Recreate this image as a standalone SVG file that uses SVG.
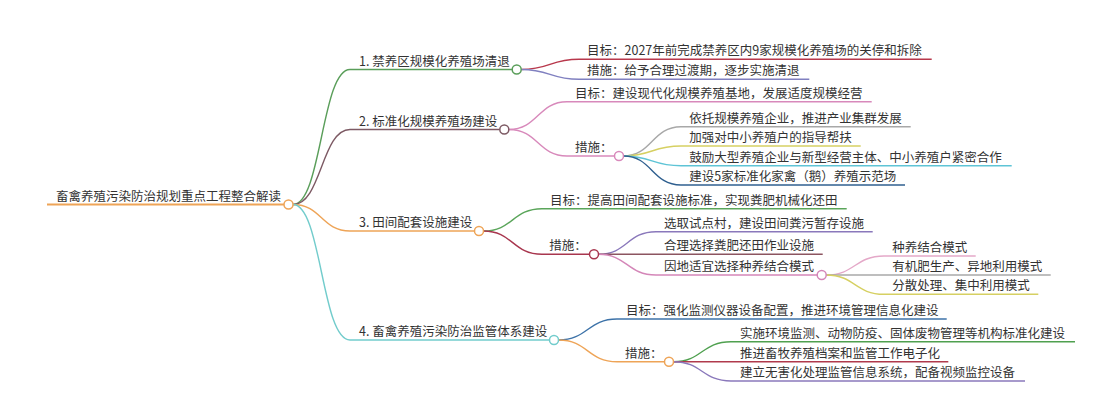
<svg xmlns="http://www.w3.org/2000/svg" width="1101" height="403" viewBox="0 0 1101 403">
<style>
text{font-family:"Noto Sans CJK SC","Noto Sans",sans-serif;font-size:12.5px;fill:#333}
.e{fill:none;stroke-width:1.4}
.u{stroke-width:1.4}
.c{fill:#fff;stroke-width:1.5}
</style>
<rect width="1101" height="403" fill="#fff"/>
<g id="connectors">
<path class="e" stroke="#5a9e5a" d="M293 204.5C321.5 204.5 321.5 69.5 350 69.5"/>
<path class="e" stroke="#7d5a64" d="M293 204.5C321.5 204.5 321.5 129.5 350 129.5"/>
<path class="e" stroke="#eea457" d="M293 204.5C321.5 204.5 321.5 231 350 231"/>
<path class="e" stroke="#72cccc" d="M293 204.5C321.5 204.5 321.5 340 350 340"/>
<path class="e" stroke="#b8384c" d="M521.2 69.5C550 69.5 550 59.3 579 59.3"/>
<path class="e" stroke="#8080c0" d="M521.2 69.5C550 69.5 550 79.3 579 79.3"/>
<path class="e" stroke="#d889bb" d="M508.8 129.5C538 129.5 538 101.7 567 101.7"/>
<path class="e" stroke="#d889bb" d="M508.8 129.5C538 129.5 538 156 567 156"/>
<path class="e" stroke="#a8a8a8" d="M623.5 156C652 156 652 126.7 681 126.7"/>
<path class="e" stroke="#d6d062" d="M623.5 156C652 156 652 146 681 146"/>
<path class="e" stroke="#5ec4d6" d="M623.5 156C652 156 652 165.7 681 165.7"/>
<path class="e" stroke="#2f5f8f" d="M623.5 156C652 156 652 185 681 185"/>
<path class="e" stroke="#5aa55a" d="M483.5 231C512.7 231 512.7 208.7 542 208.7"/>
<path class="e" stroke="#a8364e" d="M483.5 231C512.7 231 512.7 254.3 542 254.3"/>
<path class="e" stroke="#8a78bb" d="M598.5 254.3C627.2 254.3 627.2 231.7 656 231.7"/>
<path class="e" stroke="#8c5560" d="M598.5 254.3C627.2 254.3 627.2 254.3 656 254.3"/>
<path class="e" stroke="#d486b8" d="M598.5 254.3C627.2 254.3 627.2 275 656 275"/>
<path class="e" stroke="#e4a8c8" d="M826.2 275C855 275 855 256 884 256"/>
<path class="e" stroke="#a8a8a8" d="M826.2 275C855 275 855 275 884 275"/>
<path class="e" stroke="#d6d062" d="M826.2 275C855 275 855 294.3 884 294.3"/>
<path class="e" stroke="#3c72a8" d="M558.5 340C587.7 340 587.7 319 617 319"/>
<path class="e" stroke="#eea457" d="M558.5 340C587.7 340 587.7 361.7 617 361.7"/>
<path class="e" stroke="#4fa04f" d="M673.5 361.7C702 361.7 702 341.7 731 341.7"/>
<path class="e" stroke="#b03a4c" d="M673.5 361.7C702 361.7 702 361.7 731 361.7"/>
<path class="e" stroke="#8a78bb" d="M673.5 361.7C702 361.7 702 381 731 381"/>
</g>
<g id="root">
<line x1="47" y1="204.5" x2="284" y2="204.5" stroke="#eea457" stroke-width="2.2"/>
<circle class="c" cx="288.5" cy="204.5" r="4.5" stroke="#eea457"/>
<text x="56" y="200.5">畜禽养殖污染防治规划重点工程整合解读</text>
</g>
<g id="b1">
<line class="u" x1="350" y1="69.5" x2="512.2" y2="69.5" stroke="#5a9e5a"/>
<circle class="c" cx="516.7" cy="69.5" r="4.5" stroke="#5a9e5a"/>
<text x="359" y="65.5">1. 禁养区规模化养殖场清退</text>
</g>
<g id="b1-goal">
<line class="u" x1="579" y1="59.3" x2="931.7" y2="59.3" stroke="#b8384c"/>
<text x="587" y="55.3">目标：2027年前完成禁养区内9家规模化养殖场的关停和拆除</text>
</g>
<g id="b1-measure">
<line class="u" x1="579" y1="79.3" x2="809.3" y2="79.3" stroke="#8080c0"/>
<text x="587" y="75.3">措施：给予合理过渡期，逐步实施清退</text>
</g>
<g id="b2">
<line class="u" x1="350" y1="129.5" x2="499.8" y2="129.5" stroke="#7d5a64"/>
<circle class="c" cx="504.3" cy="129.5" r="4.5" stroke="#7d5a64"/>
<text x="359" y="125.5">2. 标准化规模养殖场建设</text>
</g>
<g id="b2-goal">
<line class="u" x1="567" y1="101.7" x2="871.7" y2="101.7" stroke="#d889bb"/>
<text x="575" y="97.7">目标：建设现代化规模养殖基地，发展适度规模经营</text>
</g>
<g id="b2-measure">
<line class="u" x1="567" y1="156" x2="614.5" y2="156" stroke="#d889bb"/>
<circle class="c" cx="619" cy="156" r="4.5" stroke="#d889bb"/>
<text x="575" y="152">措施：</text>
</g>
<g id="b2-m1">
<line class="u" x1="681" y1="126.7" x2="910.7" y2="126.7" stroke="#a8a8a8"/>
<text x="689.3" y="122.7">依托规模养殖企业，推进产业集群发展</text>
</g>
<g id="b2-m2">
<line class="u" x1="681" y1="146" x2="860.7" y2="146" stroke="#d6d062"/>
<text x="689.3" y="142">加强对中小养殖户的指导帮扶</text>
</g>
<g id="b2-m3">
<line class="u" x1="681" y1="165.7" x2="1011.7" y2="165.7" stroke="#5ec4d6"/>
<text x="689.3" y="161.7">鼓励大型养殖企业与新型经营主体、中小养殖户紧密合作</text>
</g>
<g id="b2-m4">
<line class="u" x1="681" y1="185" x2="905" y2="185" stroke="#2f5f8f"/>
<text x="689.3" y="181">建设5家标准化家禽（鹅）养殖示范场</text>
</g>
<g id="b3">
<line class="u" x1="350" y1="231" x2="474.5" y2="231" stroke="#eea457"/>
<circle class="c" cx="479" cy="231" r="4.5" stroke="#eea457"/>
<text x="359" y="227">3. 田间配套设施建设</text>
</g>
<g id="b3-goal">
<line class="u" x1="542" y1="208.7" x2="846.7" y2="208.7" stroke="#5aa55a"/>
<text x="550" y="204.7">目标：提高田间配套设施标准，实现粪肥机械化还田</text>
</g>
<g id="b3-measure">
<line class="u" x1="542" y1="254.3" x2="589.5" y2="254.3" stroke="#a8364e"/>
<circle class="c" cx="594" cy="254.3" r="4.5" stroke="#a8364e"/>
<text x="549.3" y="250.3">措施：</text>
</g>
<g id="b3-m1">
<line class="u" x1="656" y1="231.7" x2="872.7" y2="231.7" stroke="#8a78bb"/>
<text x="664" y="227.7">选取试点村，建设田间粪污暂存设施</text>
</g>
<g id="b3-m2">
<line class="u" x1="656" y1="254.3" x2="822.7" y2="254.3" stroke="#8c5560"/>
<text x="664" y="250.3">合理选择粪肥还田作业设施</text>
</g>
<g id="b3-m3">
<line class="u" x1="656" y1="275" x2="817.2" y2="275" stroke="#d486b8"/>
<circle class="c" cx="821.7" cy="275" r="4.5" stroke="#d486b8"/>
<text x="664" y="271">因地适宜选择种养结合模式</text>
</g>
<g id="b3-m3-1">
<line class="u" x1="884" y1="256" x2="975.7" y2="256" stroke="#e4a8c8"/>
<text x="892.3" y="252">种养结合模式</text>
</g>
<g id="b3-m3-2">
<line class="u" x1="884" y1="275" x2="1050.7" y2="275" stroke="#a8a8a8"/>
<text x="892.3" y="271">有机肥生产、异地利用模式</text>
</g>
<g id="b3-m3-3">
<line class="u" x1="884" y1="294.3" x2="1038.3" y2="294.3" stroke="#d6d062"/>
<text x="892.3" y="290.3">分散处理、集中利用模式</text>
</g>
<g id="b4">
<line class="u" x1="350" y1="340" x2="549.5" y2="340" stroke="#72cccc"/>
<circle class="c" cx="554" cy="340" r="4.5" stroke="#72cccc"/>
<text x="359" y="336">4. 畜禽养殖污染防治监管体系建设</text>
</g>
<g id="b4-goal">
<line class="u" x1="617" y1="319" x2="946.7" y2="319" stroke="#3c72a8"/>
<text x="626" y="315">目标：强化监测仪器设备配置，推进环境管理信息化建设</text>
</g>
<g id="b4-measure">
<line class="u" x1="617" y1="361.7" x2="664.5" y2="361.7" stroke="#eea457"/>
<circle class="c" cx="669" cy="361.7" r="4.5" stroke="#eea457"/>
<text x="625" y="357.7">措施：</text>
</g>
<g id="b4-m1">
<line class="u" x1="731" y1="341.7" x2="1075" y2="341.7" stroke="#4fa04f"/>
<text x="740" y="337.7">实施环境监测、动物防疫、固体废物管理等机构标准化建设</text>
</g>
<g id="b4-m2">
<line class="u" x1="731" y1="361.7" x2="948.3" y2="361.7" stroke="#b03a4c"/>
<text x="740" y="357.7">推进畜牧养殖档案和监管工作电子化</text>
</g>
<g id="b4-m3">
<line class="u" x1="731" y1="381" x2="1025" y2="381" stroke="#8a78bb"/>
<text x="740" y="377">建立无害化处理监管信息系统，配备视频监控设备</text>
</g>
</svg>
